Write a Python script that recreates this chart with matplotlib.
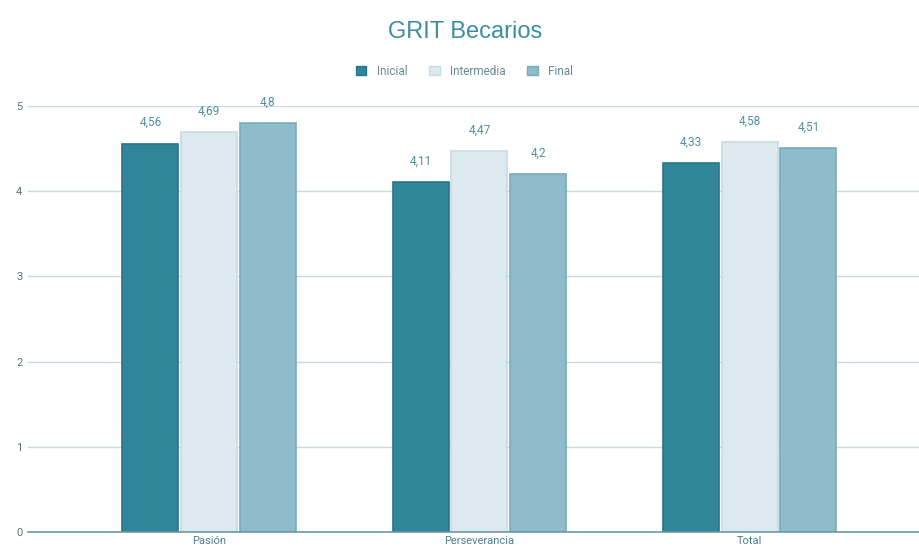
import matplotlib
matplotlib.use("Agg")
import matplotlib.pyplot as plt
import numpy as np
from matplotlib.patches import Patch

plt.rcParams['font.family'] = ['Roboto', 'DejaVu Sans']

categories = ["Pasión", "Perseverancia", "Total"]
series_names = ["Inicial", "Intermedia", "Final"]
inicial = [4.56, 4.11, 4.33]
intermedia = [4.69, 4.47, 4.58]
final = [4.8, 4.2, 4.51]
labels_inicial = ["4,56", "4,11", "4,33"]
labels_intermedia = ["4,69", "4,47", "4,58"]
labels_final = ["4,8", "4,2", "4,51"]
yticks = [0, 1, 2, 3, 4, 5]

colors = ["#2f8599", "#dce9ee", "#8fbccb"]
edges = ["#2a7487", "#c7dbe3", "#7aabbb"]
text_col = "#4f8fa1"

fig = plt.figure(figsize=(9.2, 5.51), dpi=100)
ax = fig.add_axes([0.0304, 0.0345, 0.9696, 0.773])

x = np.arange(len(categories))
w = 0.207
step = 0.217
data = [inicial, intermedia, final]
labs = [labels_inicial, labels_intermedia, labels_final]
for i, (vals, lb) in enumerate(zip(data, labs)):
    xs = x + (i - 1) * step
    ax.bar(xs, vals, width=w, color=colors[i], edgecolor=edges[i], linewidth=1.2, zorder=3)
    for xx, v, t in zip(xs, vals, lb):
        ax.text(xx, v + 0.17, t, ha="center", va="bottom", fontsize=8.5, color=text_col, clip_on=False)

ax.set_xlim(-0.67, 2.63)
ax.set_ylim(0, 5)
ax.set_yticks(yticks)
ax.set_yticklabels([str(t) for t in yticks], fontsize=8, color="#5f6f75")
ax.set_xticks(x)
ax.set_xticklabels(categories, fontsize=8, color="#4f7f8f")
ax.tick_params(axis="both", length=0, pad=4)
ax.tick_params(axis="x", pad=3)
ax.yaxis.grid(True, color="#c9dadf", linewidth=1.0, zorder=0)
for s in ["top", "right", "left"]:
    ax.spines[s].set_visible(False)
ax.spines["bottom"].set_color("#6c9aa8")
ax.spines["bottom"].set_linewidth(1.2)
ax.spines["bottom"].set_zorder(4)

fig.text(0.506, 0.942, "GRIT Becarios", ha="center", va="center", fontsize=17,
         color="#3b8ea2", family=['Liberation Sans', 'DejaVu Sans'])

handles = [Patch(facecolor=colors[i], edgecolor=edges[i]) for i in range(3)]
fig.legend(handles, series_names, loc="center", bbox_to_anchor=(0.505, 0.871), ncol=3, frameon=False,
           fontsize=8.5, labelcolor="#6a8a95", handlelength=0.9, handleheight=0.9, columnspacing=1.8,
           handletextpad=0.9)

fig.savefig("out.png", dpi=100, facecolor="white")
